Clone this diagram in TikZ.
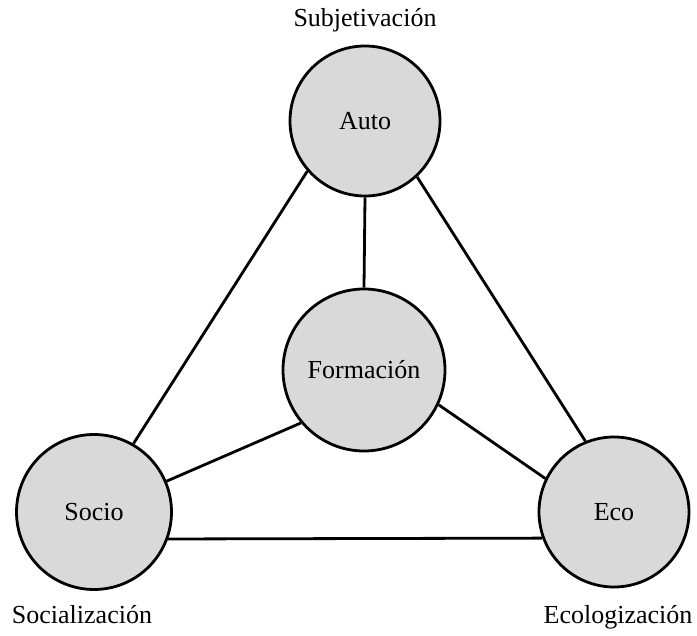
\documentclass[tikz,border=0pt]{standalone}
\usepackage{fontspec}
\setmainfont{Liberation Serif}
\definecolor{hubgray}{RGB}{217,217,217}
\begin{document}
\begin{tikzpicture}[x=1pt,y=-1pt,
  hub/.style={circle, draw=black, line width=2.8pt, fill=hubgray, inner sep=0pt},
  link/.style={line width=2.8pt},
  caption/.style={inner sep=0pt},
  font=\fontsize{26}{30}\selectfont]
\useasboundingbox (0,0) rectangle (697,636);

% the four circles
\node[hub, minimum size=150pt] (auto) at (365,121) {Auto};
\node[hub, minimum size=162pt] (form) at (364,370) {Formación};
\node[hub, minimum size=155pt] (socio) at (94,512) {Socio};
\node[hub, minimum size=150pt] (eco) at (614,512) {Eco};

% connectors
\draw[link] (auto.221) -- (socio.60);
\draw[link] (auto.313) -- (eco.112);
\draw[link] (auto.south) -- (form.north);
\draw[link] (form.220) -- (socio.23);
\draw[link] (form.335) -- (eco.154);
\draw[link] (socio.340) -- (eco.200);

% captions
\node[caption] (subj) at (365,20) {Subjetivación};
\node[caption] (soc) at (82,615) {Socialización};
\node[caption] (ecol) at (618,617) {Ecologización};
\end{tikzpicture}
\end{document}
